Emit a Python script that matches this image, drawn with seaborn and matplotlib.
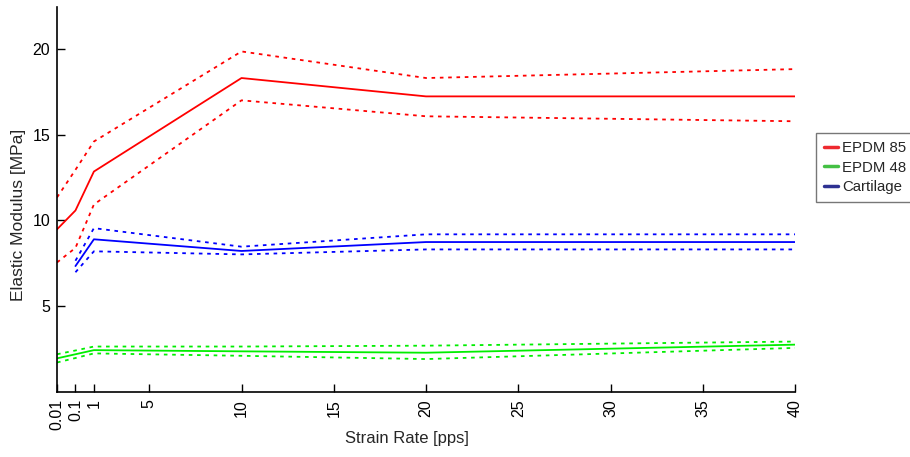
import numpy as np
import pandas as pd
import matplotlib
matplotlib.use("Agg")
import matplotlib.pyplot as plt
import seaborn as sns
from matplotlib.lines import Line2D

# Axis positions (categorical-like strain rates mapped onto a linear axis)
pos_all = [0, 1, 2, 10, 20, 40]
pos_cart = [1, 2, 10, 20, 40]
tick_pos = [0, 1, 2, 5, 10, 15, 20, 25, 30, 35, 40]
tick_labels = ["0.01", "0.1", "1", "5", "10", "15", "20", "25", "30", "35", "40"]

epdm85_mean = [9.48, 10.58, 12.85, 18.3, 17.23, 17.23]
epdm85_upper = [11.34, 12.95, 14.6, 19.85, 18.3, 18.82]
epdm85_lower = [7.55, 8.4, 10.93, 17.0, 16.07, 15.78]

epdm48_mean = [1.96, 2.2, 2.44, 2.37, 2.29, 2.76]
epdm48_upper = [2.2, 2.42, 2.65, 2.65, 2.7, 2.94]
epdm48_lower = [1.72, 1.98, 2.25, 2.11, 1.92, 2.57]

cart_mean = [7.34, 8.9, 8.22, 8.74, 8.74]
cart_upper = [7.65, 9.55, 8.47, 9.19, 9.19]
cart_lower = [6.98, 8.2, 8.02, 8.31, 8.31]

series_names = ["EPDM 85", "EPDM 48", "Cartilage"]

sns.set_style("white")
plt.rcParams['font.family'] = ['Liberation Sans', 'DejaVu Sans']

fig = plt.figure(figsize=(9.10, 4.57), dpi=100)
ax = fig.add_axes([57/910, 1 - 392/457, (795-57)/910, (392-7)/457])

line_colors = ["#ff0000", "#00ee00", "#0000ff"]
dotted = (0, (2.0, 2.6))
data = [
    (pos_all, epdm85_mean, epdm85_upper, epdm85_lower),
    (pos_all, epdm48_mean, epdm48_upper, epdm48_lower),
    (pos_cart, cart_mean, cart_upper, cart_lower),
]
for (x, m, u, l), c in zip(data, line_colors):
    sns.lineplot(x=x, y=m, ax=ax, color=c, linewidth=1.3, sort=False)
    sns.lineplot(x=x, y=u, ax=ax, color=c, linewidth=1.3, linestyle=dotted, sort=False)
    sns.lineplot(x=x, y=l, ax=ax, color=c, linewidth=1.3, linestyle=dotted, sort=False)

ax.set_xlim(0, 40)
ax.set_ylim(0, 22.44)
ax.set_xticks(tick_pos)
ax.set_xticklabels(tick_labels, rotation=90, fontsize=11.5)
ax.set_yticks([5, 10, 15, 20])
ax.set_yticklabels(["5", "10", "15", "20"], fontsize=11.5)
ax.tick_params(direction="in", length=5.5, width=1, colors="black", pad=5,
               bottom=True, left=True, top=False, right=False)
for s in ["top", "right"]:
    ax.spines[s].set_visible(False)
for s in ["left", "bottom"]:
    ax.spines[s].set_color("black")
    ax.spines[s].set_linewidth(1.2)

ax.set_xlabel("Strain Rate [pps]", fontsize=12)
ax.set_ylabel("Elastic Modulus [MPa]", fontsize=12.5)
ax.xaxis.set_label_coords(0.474, -0.101)
ax.yaxis.set_label_coords(-0.042, 0.46)

legend_colors = ["#ee2a2f", "#44c044", "#2e3192"]
handles = [Line2D([0], [0], color=c, linewidth=2.5) for c in legend_colors]
leg = fig.legend(handles, series_names, loc="upper left",
                 bbox_to_anchor=(816/910, 1 - 133/457), fontsize=10.8,
                 frameon=True, fancybox=False, handlelength=0.9,
                 handletextpad=0.3, borderpad=0.55, labelspacing=0.35,
                 borderaxespad=0)
leg.get_frame().set_edgecolor("#555555")
leg.get_frame().set_linewidth(1.0)

fig.savefig("out.png", dpi=100)
